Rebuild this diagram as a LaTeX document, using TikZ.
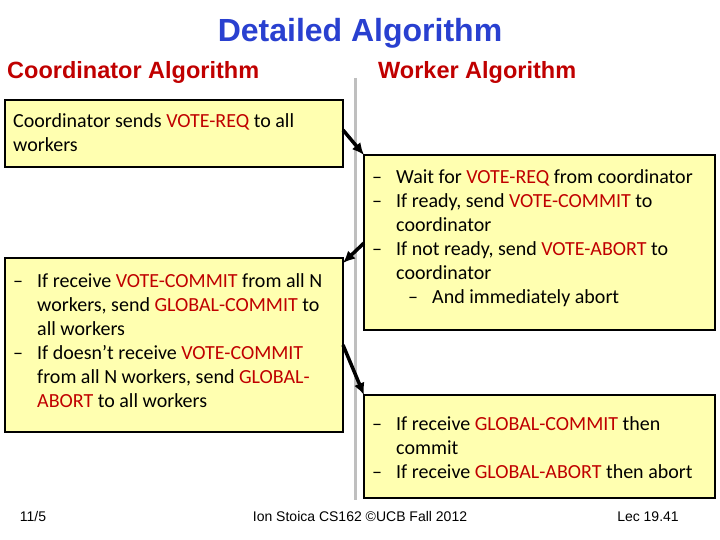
\documentclass[tikz,border=0pt]{standalone}
\usepackage{fontspec}
\usetikzlibrary{arrows.meta}
\setmainfont{Carlito}
\newfontfamily\arial{Liberation Sans}
\definecolor{dred}{HTML}{C00000}
\definecolor{tblue}{HTML}{2940D0}
\definecolor{byel}{HTML}{FFFFB0}
\newcommand{\dsh}{\makebox[24pt][l]{–}}
\newcommand{\ind}{\hspace*{24pt}}
\begin{document}
\begin{tikzpicture}[x=1pt,y=-1pt,
  boxst/.style={draw=black,line width=1.2pt,fill=byel},
  txt/.style={anchor=north west,inner sep=0pt,align=left,font=\fontsize{20}{24}\selectfont},
  arr/.style={-{Latex[length=12pt,width=11pt]},line width=3.5pt},
  hd/.style={font=\arial\bfseries\fontsize{23.5}{26}\selectfont,text=dred,inner sep=0pt},
  ft/.style={font=\arial\fontsize{14}{16}\selectfont,anchor=base}]
\useasboundingbox (0,0) rectangle (720,540);
\node[font=\arial\bfseries\fontsize{32}{36}\selectfont,text=tblue] (title) at (360,33) {Detailed Algorithm};
\node[hd,anchor=west] (ca) at (7,72) {Coordinator Algorithm};
\node[hd,anchor=west] (wa) at (378,72) {Worker Algorithm};
\draw[line width=3pt,black!25] (355,78) coordinate (lt) -- (355,500) coordinate (lb);
\draw[boxst] (5,100) rectangle (343,167);
\coordinate (b1) at (343,130);
\draw[boxst] (5,258) rectangle (343,432);
\coordinate (b2) at (343,263);
\coordinate (b2b) at (343,345);
\draw[boxst] (364,155) rectangle (715,330);
\coordinate (b3) at (364,155);
\coordinate (b3l) at (364,243);
\draw[boxst] (364,395) rectangle (715,498);
\coordinate (b4) at (364,395);
\node[txt] (t1) at (13,113) {Coordinator sends \textcolor{dred}{VOTE-REQ} to all\\workers};
\node[txt] (t2) at (13,273) {\dsh If receive \textcolor{dred}{VOTE-COMMIT} from all N\\\ind workers, send \textcolor{dred}{GLOBAL-COMMIT} to\\\ind all workers\\\dsh If doesn’t receive \textcolor{dred}{VOTE-COMMIT}\\\ind from all N workers, send \textcolor{dred}{GLOBAL-}\\\ind \textcolor{dred}{ABORT} to all workers};
\node[txt] (t3) at (372,169) {\dsh Wait for \textcolor{dred}{VOTE-REQ} from coordinator\\\dsh If ready, send \textcolor{dred}{VOTE-COMMIT} to\\\ind coordinator\\\dsh If not ready, send \textcolor{dred}{VOTE-ABORT} to\\\ind coordinator\\\ind\hspace*{12pt}\dsh And immediately abort};
\node[txt] (t4) at (372,416) {\dsh If receive \textcolor{dred}{GLOBAL-COMMIT} then\\\ind commit\\\dsh If receive \textcolor{dred}{GLOBAL-ABORT} then abort};
\draw[arr] (b1) -- (b3);
\draw[arr] (b3l) -- (b2);
\draw[arr] (b2b) -- (b4);
\node[ft] (f1) at (33,521) {11/5};
\node[ft] (f2) at (360,521) {Ion Stoica CS162 ©UCB Fall 2012};
\node[ft] (f3) at (648,521) {Lec 19.41};
\end{tikzpicture}
\end{document}
